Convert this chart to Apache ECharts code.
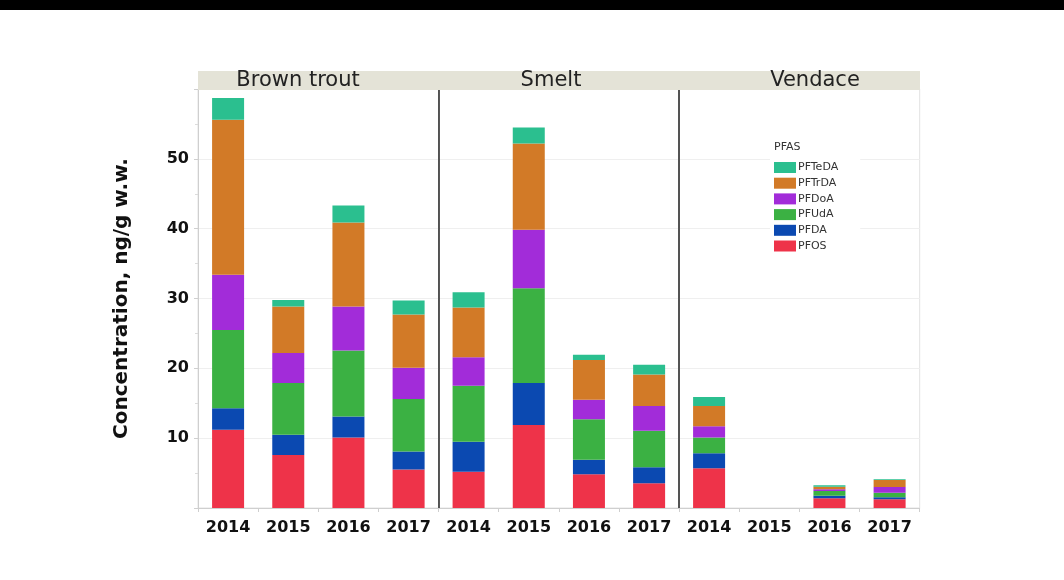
<!DOCTYPE html>
<html>
<head>
<meta charset="utf-8">
<script src="https://cdn.jsdelivr.net/npm/echarts@6/dist/echarts.min.js"></script>
<style>
html,body{margin:0;padding:0;background:#fff;}
#main{width:1064px;height:580px;}
</style>
</head>
<body>
<div id="main"></div>
<script>
// ---- data ----
const years = ['2014', '2015', '2016', '2017'];
const species = ['Brown trout', 'Smelt', 'Vendace'];
const compounds = ['PFOS', 'PFDA', 'PFUdA', 'PFDoA', 'PFTrDA', 'PFTeDA'];
const yTicks = [10, 20, 30, 40, 50];
// values per compound: Brown trout (4 yrs), Smelt (4 yrs), Vendace (4 yrs)
const PFOS   = [11.2, 7.6, 10.1, 5.5,   5.2, 11.9, 4.85, 3.55,   5.7, null, 1.4, 1.25];
const PFDA   = [3.1, 2.9, 3.0, 2.6,     4.3, 6.0, 2.05, 2.3,     2.15, null, 0.35, 0.3];
const PFUdA  = [11.2, 7.4, 9.45, 7.5,   8.0, 13.55, 5.8, 5.2,    2.25, null, 0.7, 0.65];
const PFDoA  = [7.9, 4.3, 6.3, 4.5,     4.1, 8.4, 2.8, 3.55,     1.6, null, 0.25, 0.8];
const PFTrDA = [22.2, 6.65, 12.05, 7.6, 7.1, 12.35, 5.7, 4.5,    2.9, null, 0.35, 1.0];
const PFTeDA = [3.1, 0.95, 2.4, 2.0,    2.2, 2.3, 0.75, 1.4,     1.3, null, 0.2, 0.1];
const values = { PFOS, PFDA, PFUdA, PFDoA, PFTrDA, PFTeDA };

// ---- style ----
const colors = { PFOS: '#ee3349', PFDA: '#0b49b1', PFUdA: '#3bb143', PFDoA: '#a22cd9', PFTrDA: '#d27a27', PFTeDA: '#2bbf8f' };
const panelLeft = [198, 438.5, 679];
const panelWidth = 240.7;
const gridTop = 89, gridBottom = 72;
const headerTitleX = [298, 551, 815];

const grids = [], xAxes = [], yAxes = [], series = [];
species.forEach((sp, g) => {
  grids.push({ left: panelLeft[g], width: panelWidth, top: gridTop, bottom: gridBottom, containLabel: false,
    show: true, borderColor: '#e2e2e2', borderWidth: 1, backgroundColor: 'transparent' });
  xAxes.push({
    type: 'category', gridIndex: g, data: years,
    axisLine: { show: true, lineStyle: { color: '#cfcfcf' } },
    axisTick: { show: true, length: 4, lineStyle: { color: '#cfcfcf' } },
    axisLabel: { color: '#111', fontFamily: 'DejaVu Sans', fontWeight: 'bold', fontSize: 16, margin: 12 }
  });
  yAxes.push({
    type: 'value', gridIndex: g, min: 0, max: 60, interval: 10,
    name: g === 0 ? 'Concentration, ng/g w.w.' : '',
    nameLocation: 'middle', nameGap: 66,
    nameTextStyle: { fontFamily: 'DejaVu Sans', fontWeight: 'bold', fontSize: 20, color: '#111' },
    axisLine: { show: true, lineStyle: g === 0 ? { color: '#cfcfcf', width: 1 } : { color: '#222', width: 1.5 } },
    axisTick: { show: g === 0, length: 4, lineStyle: { color: '#cfcfcf' } },
    minorTick: { show: g === 0, splitNumber: 2, length: 3, lineStyle: { color: '#dcdcdc' } },
    splitLine: { show: true, lineStyle: { color: '#efefef' } },
    axisLabel: {
      show: g === 0, color: '#111', fontFamily: 'DejaVu Sans', fontWeight: 'bold', fontSize: 16, margin: 9,
      formatter: v => (yTicks.indexOf(v) >= 0 ? String(v) : '')
    }
  });
  compounds.forEach(c => {
    series.push({
      name: c, type: 'bar', stack: 'st' + g, xAxisIndex: g, yAxisIndex: g,
      barWidth: 32, itemStyle: { color: colors[c] },
      data: values[c].slice(g * 4, g * 4 + 4)
    });
  });
});

const graphic = [
  { type: 'rect', left: 0, top: 0, shape: { width: 1064, height: 10 }, style: { fill: '#000' }, z: 100 },
  { type: 'rect', shape: { x: panelLeft[0], y: 71, width: 920 - panelLeft[0], height: 19 }, style: { fill: '#e4e3d7' }, z: 50 },
  { type: 'text', x: 774, y: 147, style: { text: 'PFAS', fill: '#333', font: '11px "DejaVu Sans"', textVerticalAlign: 'middle' }, z: 60 }
];
species.forEach((sp, g) => {
  graphic.push({ type: 'text', x: headerTitleX[g], y: 81, style: { text: sp, fill: '#222', font: '21px "DejaVu Sans"', textAlign: 'center', textVerticalAlign: 'middle' }, z: 60 });
});

const chart = echarts.init(document.getElementById('main'), null, { renderer: 'canvas' });
chart.setOption({
  animation: false,
  backgroundColor: '#fff',
  grid: grids, xAxis: xAxes, yAxis: yAxes, series: series,
  legend: {
    data: compounds.slice().reverse(), orient: 'vertical', left: 770, top: 140,
    padding: [22, 22, 8, 4], backgroundColor: '#fff', itemWidth: 22, itemHeight: 11, itemGap: 4.7,
    textStyle: { fontFamily: 'DejaVu Sans', fontSize: 11, color: '#333', padding: [0, 0, 0, -3] },
    icon: 'rect', selectedMode: false
  },
  graphic: graphic
});
</script>
</body>
</html>
